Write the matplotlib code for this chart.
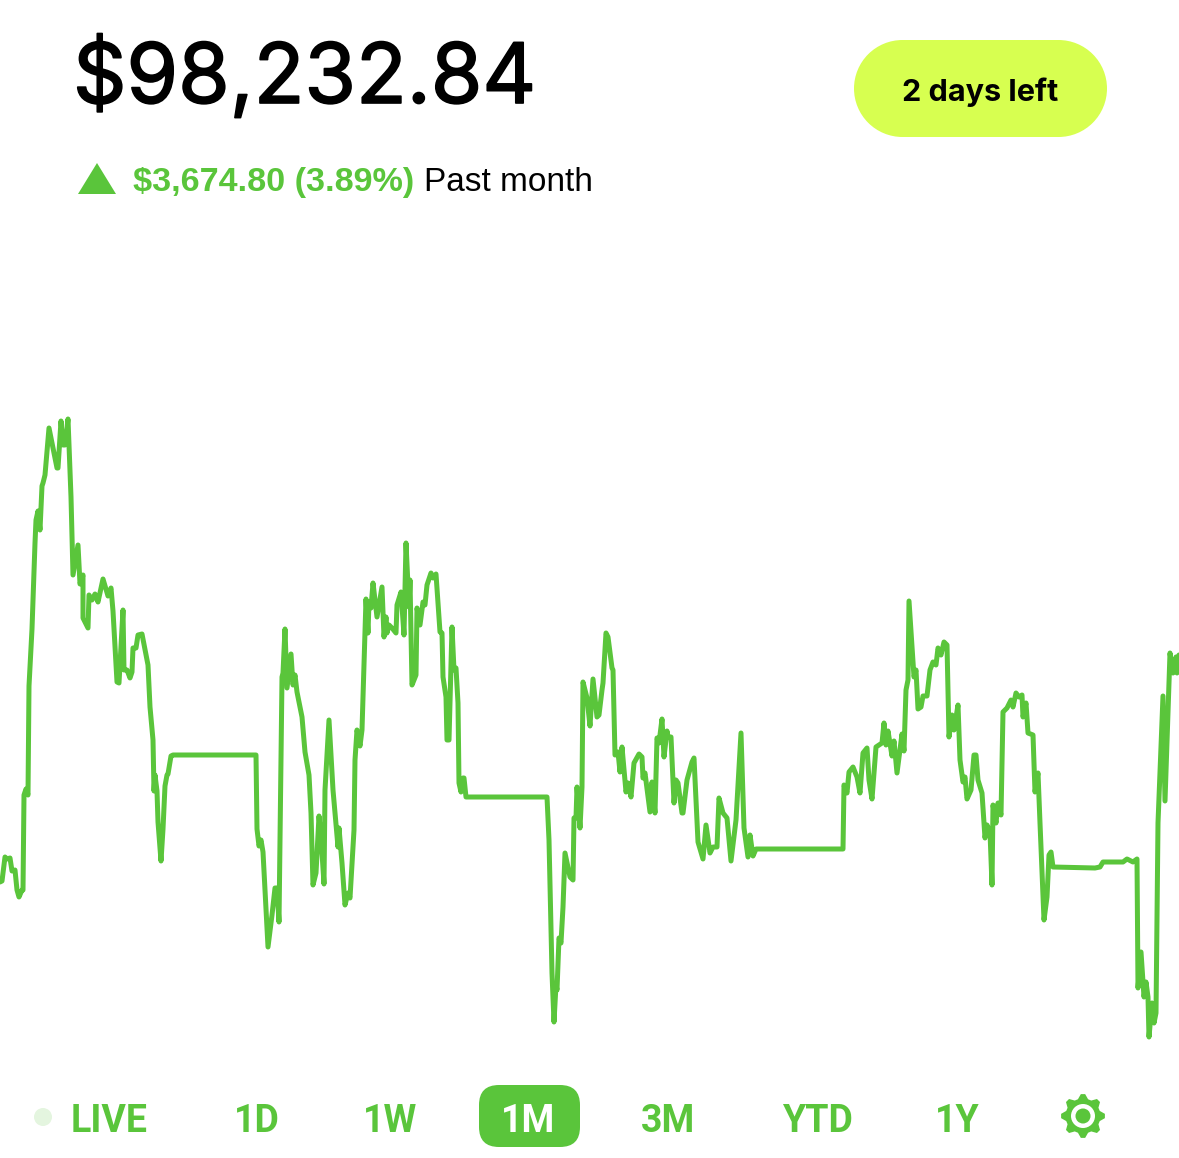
import numpy as np
import matplotlib
matplotlib.use("Agg")
import matplotlib.pyplot as plt
import matplotlib.patheffects as pe
from matplotlib.patches import FancyBboxPatch, Polygon, Circle, Rectangle

plt.rcParams['font.family'] = ['Liberation Sans', 'DejaVu Sans']

# ---- data (time position, chart level)
part1_t = [0,2,5,7,10,12,15,17,19,22,23,24,26,28,29,32,35,36,38,40,42,43,45,49,57,58,61,63,65,68,71,73,78,80,83,83,88,89,92,95,98,103,108,111,113,116,117,119,123,124,127,130,132,133,136,138,142,148,150,153,154,155,157,158,161,163,165,167,168,171,173,256,257,259,261,263,268,272,275,277,279,282,283,285]
part1_v = [882,881,857,859,858,871,870,890,897,890,890,795,789,795,686,629,543,520,511,530,486,483,475,428,468,468,421,445,445,419,497,575,545,584,575,618,628,595,600,594,602,579,596,588,611,665,682,683,610,670,670,678,672,648,648,635,634,665,707,740,791,775,791,822,861,829,786,775,774,756,755,755,829,846,840,852,947,915,888,888,922,677,673,629]

part2_t = [287,291,293,295,297,302,305,309,311,313,316,319,321,324,325,329,333,338,339,342,345,348,350,354,355,357,360,362,364,366,368,369,371,373,377,379,382,384,386,387,389,392,396,397,401,404,406,409,410,412,416,417,420,423,425,427,431,433,436,438,440,442,443,446,447,449,452,454,456,458,459,461,463,464,466,547]
part2_v = [688,654,685,675,692,717,752,775,813,885,873,816,837,884,790,720,790,847,828,863,905,893,898,830,760,730,746,730,663,599,633,602,608,583,617,605,587,637,617,633,625,628,633,605,592,635,543,607,580,685,675,608,625,602,605,585,573,578,574,603,632,633,677,697,740,740,627,670,668,703,783,792,778,778,797,797]

part3_t = [549,552,554,556,557,559,561,563,565,570,573,574,576,577,580,582,583,587,590,593,597,599,602,603,606,608,612,613,615,618,620,622,626,628,631,634,639,642,643,645,650,652,655,657,659,662,664,667,668,671,674,676,678,682,683,687,692,694,698,703,706,710,713,717,719,723,727,731,736,741,744,748,750,753,756,843]
part3_v = [840,973,1022,985,990,938,943,907,853,877,880,818,818,787,828,787,682,698,726,679,717,715,690,683,633,637,668,670,755,752,772,747,792,783,797,763,754,757,778,773,812,782,813,738,743,719,757,731,737,737,803,780,783,813,813,780,762,758,842,859,825,853,847,847,798,813,818,861,820,733,828,857,835,856,849,849]

part4_t = [844,847,849,853,857,860,863,867,869,872,876,882,884,886,888,892,894,897,902,904,906,908,909,914,916,918,921,923,927,930,933,936,938,941,944,947,949,952,954,958,960,963,965,967,971,974,976,978,982,985,987,990,992,993,996,998,1001,1003,1007,1011,1013,1016,1019,1022,1023,1026,1028,1033,1035,1038,1040,1044,1047,1049,1051,1053,1095,1100,1103,1123,1127,1133,1137,1138,1141,1144,1146,1148,1149,1152,1154,1156,1158,1163,1165,1170,1173,1176,1177,1179]
part4_v = [785,793,772,767,777,793,753,748,780,799,747,743,723,745,731,756,741,773,734,751,690,680,601,677,670,709,707,696,696,670,662,665,648,655,642,645,737,715,730,705,760,782,777,799,790,755,755,780,793,838,825,832,885,805,823,803,815,712,708,700,707,693,697,695,717,703,733,735,792,773,823,920,897,855,852,867,868,867,862,862,859,862,859,988,952,997,982,997,1037,1003,1023,1013,823,696,801,653,673,657,673,655]

balance_text = "$98,232.84"
change_text = "$3,674.80 (3.89%)"
period_text = "Past month"
badge_text = "2 days left"
tab_labels = ["LIVE", "1D", "1W", "1M", "3M", "YTD", "1Y"]
tab_centers = [109, 257, 390, 528, 668, 817, 957]
selected_tab = "1M"

GREEN = "#5AC53B"

fig = plt.figure(figsize=(11.79, 11.58), dpi=100, facecolor="white")
ax = fig.add_axes([0, 0, 1, 1])
ax.set_xlim(0, 1179)
ax.set_ylim(1158, 0)
ax.axis("off")

t = part1_t + part2_t + part3_t + part4_t
v = part1_v + part2_v + part3_v + part4_v
ax.plot(t, v, color=GREEN, lw=3.6, solid_joinstyle="round", solid_capstyle="round")

# header
ax.text(73, 103, balance_text, fontsize=60, family="Inter", color="black", va="baseline", ha="left",
        path_effects=[pe.withStroke(linewidth=1.2, foreground="black")])
ax.add_patch(Polygon([(78, 194), (116, 194), (97, 163)], closed=True, fc=GREEN, ec="none"))
ax.text(133, 191, change_text, fontsize=24.6, fontweight="bold", color=GREEN, va="baseline", ha="left")
ax.text(424, 191, period_text, fontsize=24, color="black", va="baseline", ha="left")

# badge
ax.add_patch(Rectangle((854 + 48.5, 40), 253 - 97, 97, fc="#D7FF50", ec="none"))
ax.add_patch(Circle((854 + 48.5, 88.5), 48.5, fc="#D7FF50", ec="none"))
ax.add_patch(Circle((1107 - 48.5, 88.5), 48.5, fc="#D7FF50", ec="none"))
ax.text(980.5, 101, badge_text, fontsize=22, family="Inter", fontweight="bold", color="black", ha="center", va="baseline")

# tabs
ax.add_patch(Circle((43, 1117), 9, fc="#E4F5DF", ec="none"))
ax.add_patch(FancyBboxPatch((479 + 20, 1085 + 20), 101 - 40, 62 - 40,
                            boxstyle="round,pad=20,rounding_size=20", fc=GREEN, ec="none"))
for lab, cx in zip(tab_labels, tab_centers):
    ax.text(cx, 1132, lab, fontsize=27, family="Roboto", fontweight="bold", ha="center", va="baseline",
            color="white" if lab == selected_tab else GREEN)

# settings gear
gx, gy = 1083, 1116
n = 8
ang = np.linspace(0, 2 * np.pi, n * 4, endpoint=False) - np.pi / 2 - np.pi / (n * 2) * 0.5
rad = np.tile([22, 22, 17.5, 17.5], n)
ax.add_patch(Polygon(np.c_[gx + rad * np.cos(ang), gy + rad * np.sin(ang)], closed=True, fc=GREEN, ec="none"))
ax.add_patch(Circle((gx, gy), 12, fc="white", ec="none"))
ax.add_patch(Circle((gx, gy), 7.5, fc=GREEN, ec="none"))

fig.savefig("out.png", dpi=100, facecolor="white")
